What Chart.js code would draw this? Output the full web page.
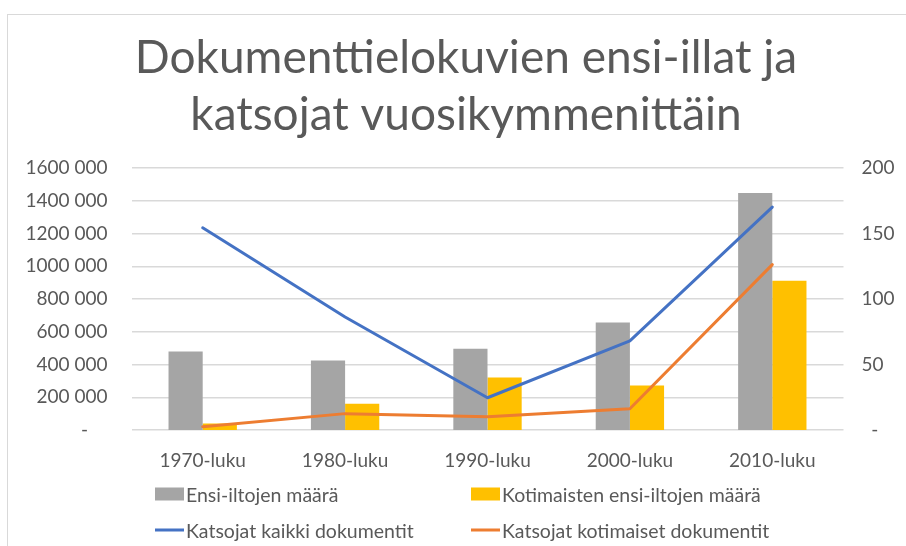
<!DOCTYPE html>
<html>
<head>
<meta charset="utf-8">
<script src="https://cdn.jsdelivr.net/npm/chart.js@4"></script>
<style>
  html, body { margin: 0; padding: 0; background: #fff; }
  #wrap { position: relative; width: 906px; height: 546px; overflow: hidden; }
  #frame { position: absolute; left: 7px; top: 14px; width: 1000px; height: 1000px;
           border: 1px solid #d9d9d9; box-sizing: border-box; }
  #chart { position: absolute; left: 0; top: 0; }
  #legend { position: absolute; left: 0; top: 0; width: 906px; height: 546px; pointer-events: none;
            font-family: Lato, sans-serif; font-size: 19.5px; color: #595959; }
  .item { position: absolute; display: flex; align-items: center; white-space: nowrap; transform: translateY(-50%); }
  .sw { width: 29px; margin-right: 2px; }
</style>
</head>
<body>
<div id="wrap">
  <div id="frame"></div>
  <canvas id="chart" width="906" height="546"></canvas>
  <div id="legend"></div>
</div>
<script>
const TITLE = ['Dokumenttielokuvien ensi-illat ja', 'katsojat vuosikymmenittäin'];
const DECADES = ['1970-luku', '1980-luku', '1990-luku', '2000-luku', '2010-luku'];

// bars, right axis (count)
const premieres         = [60, 53, 62, 82, 181];
const domesticPremieres = [5, 20, 40, 34, 114];

// lines, left axis (viewers)
const viewersAll      = [1235000, 690000, 197000, 544000, 1362000];
const viewersDomestic = [20000, 100000, 81000, 130000, 1010000];

const TXT  = '#595959';
const GRID = '#d9d9d9';
const FONT = 'Lato, sans-serif';
const TICK = 19;
const PAD_LEFT = 26;

// ── Number format like "1600 000", zero as dash ──────────────────────────────
function fmtLeft(v) {
  if (v === 0) return '-\u00a0\u00a0\u00a0\u00a0';
  const k = Math.floor(v / 1000);
  return k + ' ' + String(v % 1000).padStart(3, '0');
}

const chart = new Chart(document.getElementById('chart'), {
  data: {
    labels: DECADES,
    datasets: [
      { type: 'line', label: 'Katsojat kaikki dokumentit', data: viewersAll, yAxisID: 'y',
        borderColor: '#4472c4', borderWidth: 3, pointRadius: 0, tension: 0, order: 0,
        borderCapStyle: 'round', borderJoinStyle: 'round' },
      { type: 'line', label: 'Katsojat kotimaiset dokumentit', data: viewersDomestic, yAxisID: 'y',
        borderColor: '#ed7d31', borderWidth: 3, pointRadius: 0, tension: 0, order: 0,
        borderCapStyle: 'round', borderJoinStyle: 'round' },
      { type: 'bar', label: 'Ensi-iltojen määrä', data: premieres, yAxisID: 'y1',
        backgroundColor: '#a5a5a5', order: 1, categoryPercentage: 0.48, barPercentage: 1.0 },
      { type: 'bar', label: 'Kotimaisten ensi-iltojen määrä', data: domesticPremieres, yAxisID: 'y1',
        backgroundColor: '#ffc000', order: 1, categoryPercentage: 0.48, barPercentage: 1.0 },
    ],
  },
  options: {
    responsive: false,
    animation: false,
    layout: { padding: { left: PAD_LEFT, top: 0, right: 0, bottom: 0 } },
    plugins: {
      legend: { display: false },
      tooltip: { enabled: false },
      title: {
        display: true,
        text: TITLE,
        color: TXT,
        font: { family: FONT, size: 46, weight: 'normal', lineHeight: 1.24 },
        padding: { top: 29.5, bottom: 24.5 },
      },
    },
    scales: {
      x: {
        grid: { display: false, drawTicks: false },
        border: { display: false },
        ticks: { color: TXT, font: { family: FONT, size: TICK }, padding: 19 },
        afterFit: (s) => { s.height = 116; },
      },
      y: {
        position: 'left',
        min: 0, max: 1600000,
        ticks: { stepSize: 200000, color: TXT, font: { family: FONT, size: TICK }, padding: 24, callback: fmtLeft },
        grid: { color: GRID, lineWidth: 1.5, drawTicks: false },
        border: { display: false },
        afterFit: (s) => { s.width = 131.5 - PAD_LEFT; },
      },
      y1: {
        position: 'right',
        min: 0, max: 200,
        ticks: { stepSize: 50, color: TXT, font: { family: FONT, size: TICK }, padding: 18,
                 callback: (v) => v === 0 ? '\u00a0\u00a0-' : String(v) },
        grid: { display: false, drawTicks: false },
        border: { display: false },
        afterFit: (s) => { s.width = 62.5; },
      },
    },
  },
});

// ── HTML legend, two columns ────────────────────────────────────────────────
const legendPos = [
  { ds: 2, x: 155, y: 494 },
  { ds: 3, x: 471, y: 494 },
  { ds: 0, x: 155, y: 530 },
  { ds: 1, x: 471, y: 530 },
];
const legendEl = document.getElementById('legend');
legendPos.forEach(p => {
  const ds = chart.data.datasets[p.ds];
  const item = document.createElement('div');
  item.className = 'item';
  item.style.left = p.x + 'px';
  item.style.top = p.y + 'px';
  const sw = document.createElement('span');
  sw.className = 'sw';
  if (ds.type === 'bar') { sw.style.height = '13px'; sw.style.background = ds.backgroundColor; }
  else { sw.style.height = '3px'; sw.style.background = ds.borderColor; }
  item.appendChild(sw);
  item.appendChild(document.createTextNode(ds.label));
  legendEl.appendChild(item);
});
</script>
</body>
</html>
